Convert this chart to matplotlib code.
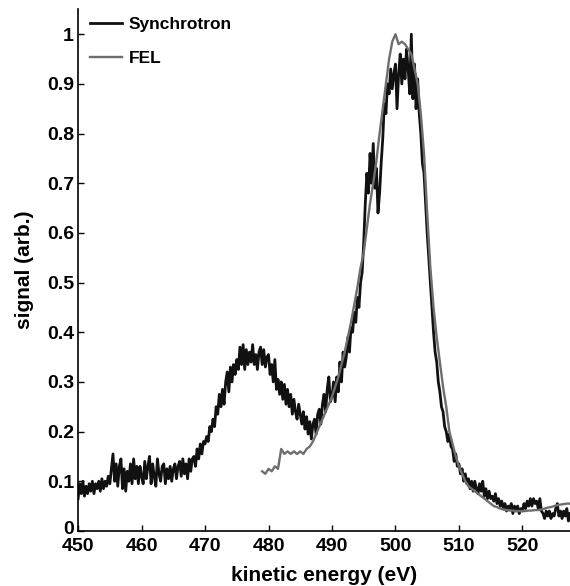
import numpy as np
import matplotlib
matplotlib.use("Agg")
import matplotlib.pyplot as plt
import matplotlib.transforms as mtransforms

plt.rcParams['font.family'] = ['Liberation Sans', 'DejaVu Sans']
plt.rcParams['font.weight'] = 'bold'

# synchrotron spectrum, 0.25 eV steps from 450 to 527.5 eV
sync_start, sync_step = 450.0, 0.25
sync_signal = [
    0.065, 0.095, 0.075, 0.10, 0.07, 0.09, 0.075, 0.095, 0.08, 0.10, 0.075, 0.095, 0.085, 0.10, 0.08, 0.105, 0.085, 0.10, 0.09, 0.11,
    0.095, 0.125, 0.155, 0.10, 0.135, 0.09, 0.13, 0.145, 0.085, 0.125, 0.08, 0.12, 0.10, 0.135, 0.095, 0.145, 0.105, 0.13, 0.095, 0.13,
    0.11, 0.095, 0.14, 0.105, 0.13, 0.15, 0.095, 0.135, 0.11, 0.09, 0.145, 0.115, 0.10, 0.13, 0.135, 0.095, 0.125, 0.105, 0.13, 0.10,
    0.125, 0.135, 0.105, 0.13, 0.14, 0.11, 0.145, 0.115, 0.135, 0.105, 0.145, 0.12, 0.145, 0.15, 0.13, 0.165, 0.145, 0.175, 0.155, 0.18,
    0.175, 0.19, 0.18, 0.21, 0.20, 0.225, 0.21, 0.25, 0.235, 0.275, 0.25, 0.285, 0.255, 0.30, 0.32, 0.28, 0.33, 0.30, 0.335, 0.315,
    0.345, 0.325, 0.37, 0.335, 0.375, 0.325, 0.365, 0.335, 0.36, 0.34, 0.375, 0.335, 0.355, 0.325, 0.36, 0.37, 0.335, 0.365, 0.33, 0.35,
    0.355, 0.315, 0.335, 0.30, 0.345, 0.285, 0.305, 0.275, 0.30, 0.265, 0.295, 0.255, 0.285, 0.25, 0.275, 0.235, 0.265, 0.24, 0.225, 0.255,
    0.235, 0.215, 0.24, 0.205, 0.23, 0.195, 0.22, 0.185, 0.215, 0.225, 0.195, 0.235, 0.245, 0.215, 0.255, 0.275, 0.24, 0.285, 0.31, 0.26,
    0.27, 0.30, 0.26, 0.31, 0.28, 0.34, 0.30, 0.36, 0.33, 0.35, 0.39, 0.36, 0.41, 0.40, 0.44, 0.42, 0.47, 0.45, 0.50, 0.52,
    0.58, 0.66, 0.72, 0.68, 0.76, 0.70, 0.78, 0.69, 0.73, 0.64, 0.68, 0.74, 0.79, 0.86, 0.84, 0.90, 0.88, 0.93, 0.89, 0.92,
    0.94, 0.85, 0.92, 0.96, 0.90, 0.95, 0.91, 0.97, 0.93, 0.88, 1.0, 0.87, 0.94, 0.85, 0.91, 0.84, 0.80, 0.74, 0.72, 0.66,
    0.60, 0.55, 0.50, 0.45, 0.40, 0.36, 0.34, 0.30, 0.28, 0.25, 0.24, 0.21, 0.20, 0.18, 0.195, 0.17, 0.165, 0.14, 0.155, 0.13,
    0.135, 0.115, 0.125, 0.10, 0.115, 0.095, 0.105, 0.085, 0.10, 0.08, 0.10, 0.085, 0.075, 0.095, 0.08, 0.10, 0.07, 0.085, 0.065, 0.08,
    0.065, 0.07, 0.06, 0.075, 0.055, 0.065, 0.05, 0.06, 0.045, 0.055, 0.04, 0.05, 0.045, 0.055, 0.035, 0.05, 0.04, 0.05, 0.035, 0.045,
    0.04, 0.055, 0.045, 0.06, 0.05, 0.065, 0.05, 0.065, 0.055, 0.06, 0.045, 0.065, 0.04, 0.035, 0.025, 0.04, 0.03, 0.04, 0.025, 0.035,
    0.03, 0.045, 0.055, 0.03, 0.04, 0.025, 0.04, 0.03, 0.045, 0.02, 0.035,
]

# FEL spectrum, 0.5 eV steps from 479 to 527.5 eV
fel_start, fel_step = 479.0, 0.5
fel_signal = [
    0.12, 0.115, 0.125, 0.12, 0.13, 0.125, 0.165, 0.155, 0.16, 0.155,
    0.16, 0.155, 0.16, 0.155, 0.165, 0.17, 0.18, 0.195, 0.21, 0.225,
    0.24, 0.255, 0.27, 0.29, 0.31, 0.335, 0.36, 0.39, 0.42, 0.455,
    0.49, 0.53, 0.56, 0.61, 0.66, 0.70, 0.745, 0.80, 0.85, 0.90,
    0.95, 0.985, 1.0, 0.98, 0.985, 0.98, 0.97, 0.96, 0.93, 0.90,
    0.84, 0.76, 0.64, 0.53, 0.45, 0.39, 0.34, 0.29, 0.25, 0.20,
    0.175, 0.15, 0.13, 0.115, 0.10, 0.09, 0.085, 0.08, 0.075, 0.07,
    0.065, 0.06, 0.055, 0.05, 0.048, 0.045, 0.043, 0.042, 0.041, 0.041,
    0.04, 0.04, 0.04, 0.04, 0.041, 0.041, 0.042, 0.042, 0.043, 0.045,
    0.047, 0.048, 0.05, 0.052, 0.053, 0.054, 0.055, 0.055,
]

x_ticks = [450, 460, 470, 480, 490, 500, 510, 520]
y_ticks = [0, 0.1, 0.2, 0.3, 0.4, 0.5, 0.6, 0.7, 0.8, 0.9, 1]
y_ticklabels = ['0', '0.1', '0.2', '0.3', '0.4', '0.5', '0.6', '0.7', '0.8', '0.9', '1']

sync_x = sync_start + sync_step * np.arange(len(sync_signal))
fel_x = fel_start + fel_step * np.arange(len(fel_signal))

fig = plt.figure(figsize=(5.7, 5.86), dpi=100)
ax = fig.add_axes([0.137, 0.094, 0.863, 0.89])

ax.plot(sync_x, sync_signal, color='#111111', lw=2.0, label='Synchrotron')
ax.plot(fel_x, fel_signal, color='#6e6e6e', lw=1.7, label='FEL')

ax.set_xlim(450, 527.5)
ax.set_ylim(0, 1.05)
ax.set_xticks(x_ticks)
ax.set_yticks(y_ticks)
ax.set_yticklabels(y_ticklabels)
ax.tick_params(direction='in', length=4, width=1, labelsize=14)
ax.tick_params(axis='y', pad=3)
ax.tick_params(axis='x', pad=5)
for lab in ax.get_xticklabels() + ax.get_yticklabels():
    lab.set_fontweight('bold')

# nudge the "0" label up a little so it clears "450"
zero_lab = ax.get_yticklabels()[0]
zero_lab.set_transform(zero_lab.get_transform() +
                       mtransforms.ScaledTranslation(0, 2.5 / 72, fig.dpi_scale_trans))

ax.spines['top'].set_visible(False)
ax.spines['right'].set_visible(False)
ax.spines['left'].set_linewidth(1.2)
ax.spines['bottom'].set_linewidth(1.2)

ax.set_xlabel('kinetic energy (eV)', fontsize=15, fontweight='bold', labelpad=8)
ax.set_ylabel('signal (arb.)', fontsize=15, fontweight='bold', labelpad=9)

leg = ax.legend(loc='upper left', bbox_to_anchor=(-0.008, 1.015), frameon=False,
                prop={'weight': 'bold', 'size': 12.5}, handlelength=1.85,
                handletextpad=0.4, labelspacing=1.05)

fig.savefig('out.png', dpi=100)
